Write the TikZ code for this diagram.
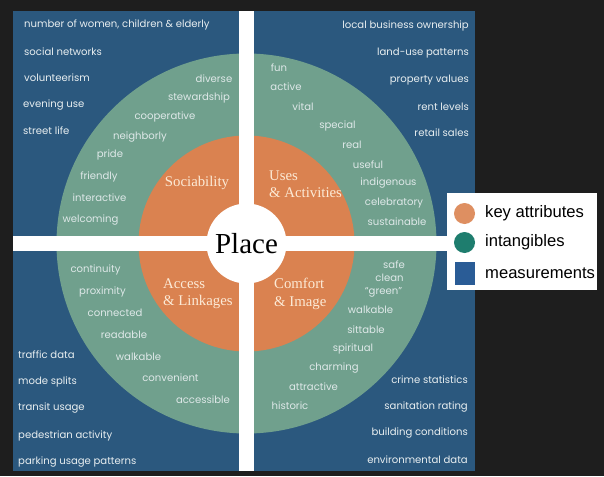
\documentclass[tikz,border=0pt]{standalone}
\usepackage{fontspec}
\setmainfont{Liberation Serif}
\newfontfamily\ringfont{Poppins}
\newfontfamily\keyfont{Liberation Sans}
\definecolor{darkbg}{RGB}{30,30,30}
\definecolor{measblue}{RGB}{43,88,126}
\definecolor{ringgreen}{RGB}{112,160,141}
\definecolor{keyorange}{RGB}{218,130,80}
\definecolor{keyteal}{RGB}{30,125,110}
\definecolor{keyblue}{RGB}{42,92,150}
\definecolor{paletext}{RGB}{232,238,240}
\definecolor{creamtext}{RGB}{252,234,214}

\begin{document}
\begin{tikzpicture}[x=1pt, y=-1pt,
    meas/.style={text=paletext, inner sep=0pt, font=\ringfont\fontsize{10.1}{12}\selectfont},
    intang/.style={meas, text=paletext!92!ringgreen},
    attr/.style={text=creamtext, inner sep=0pt, align=left, font=\fontsize{14.8}{17.5}\selectfont},
    keytext/.style={anchor=west, inner sep=0pt, font=\keyfont\fontsize{16.6}{18}\selectfont}]
    % Frame and background
    \useasboundingbox (0,0) rectangle (604,476);
    \fill[darkbg] (0,0) rectangle (604,476);
    \fill[measblue] (13,11) rectangle (475,471);

    % Rings
    \fill[ringgreen] (246.5,243.5) circle (190);
    \fill[keyorange] (246.5,243.5) circle (108);

    % White cross
    \fill[white] (239,11) rectangle (254,471);
    \fill[white] (13,236) rectangle (450,251);
    \node[circle, fill=white, minimum size=80, inner sep=0pt,
          font=\fontsize{29}{32}\selectfont] (place) at (246.5,243.5) {Place};

    % Key attributes
    \node[attr, align=center] (sociability) at (197,183) {Sociability};
    \node[attr, anchor=west] (uses) at (269,184) {Uses\\\& Activities};
    \node[attr, anchor=west] (access) at (163,293.5) {Access\\\& Linkages};
    \node[attr, anchor=west] (comfort) at (274,294) {Comfort\\\& Image};

    % Intangibles - sociability
    \node[intang] (diverse) at (214,79) {diverse};
    \node[intang] (stewardship) at (199,98) {stewardship};
    \node[intang] (cooperative) at (165,117) {cooperative};
    \node[intang] (neighborly) at (140,137) {neighborly};
    \node[intang] (pride) at (110,155) {pride};
    \node[intang] (friendly) at (99,177) {friendly};
    \node[intang] (interactive) at (99.5,198) {interactive};
    \node[intang] (welcoming) at (90.5,220) {welcoming};

    % Intangibles - uses & activities
    \node[intang] (fun) at (279,68) {fun};
    \node[intang] (active) at (286,87) {active};
    \node[intang] (vital) at (303,107) {vital};
    \node[intang] (special) at (337.5,126) {special};
    \node[intang] (real) at (352,145) {real};
    \node[intang] (useful) at (368,165) {useful};
    \node[intang] (indigenous) at (388.5,183) {indigenous};
    \node[intang] (celebratory) at (394,203) {celebratory};
    \node[intang] (sustainable) at (397,222) {sustainable};

    % Intangibles - access & linkages
    \node[intang] (continuity) at (95.5,270) {continuity};
    \node[intang] (proximity) at (102.5,292) {proximity};
    \node[intang] (connected) at (115,313) {connected};
    \node[intang] (readable) at (124,335) {readable};
    \node[intang] (walkableA) at (138.5,357) {walkable};
    \node[intang] (convenient) at (170.5,378) {convenient};
    \node[intang] (accessible) at (203,400) {accessible};

    % Intangibles - comfort & image
    \node[intang] (safe) at (394,265) {safe};
    \node[intang] (clean) at (389.5,278) {clean};
    \node[intang] (green) at (383.5,292) {“green”};
    \node[intang] (walkableC) at (370.5,310) {walkable};
    \node[intang] (sittable) at (366,330) {sittable};
    \node[intang] (spiritual) at (353,349) {spiritual};
    \node[intang] (charming) at (334,368) {charming};
    \node[intang] (attractive) at (313.5,387) {attractive};
    \node[intang] (historic) at (290,406) {historic};

    % Measurements - top left
    \node[meas, anchor=west] (women) at (24,25) {number of women, children \& elderly};
    \node[meas, anchor=west] (networks) at (24,52) {social networks};
    \node[meas, anchor=west] (volunteerism) at (24,78) {volunteerism};
    \node[meas, anchor=west] (evening) at (23,105) {evening use};
    \node[meas, anchor=west] (streetlife) at (23,131) {street life};

    % Measurements - top right
    \node[meas, anchor=east] (business) at (469,26) {local business ownership};
    \node[meas, anchor=east] (landuse) at (469,53) {land-use patterns};
    \node[meas, anchor=east] (property) at (469,80) {property values};
    \node[meas, anchor=east] (rent) at (469,107) {rent levels};
    \node[meas, anchor=east] (retail) at (469,133) {retail sales};

    % Measurements - bottom left
    \node[meas, anchor=west] (traffic) at (18,355) {traffic data};
    \node[meas, anchor=west] (modesplits) at (18,382) {mode splits};
    \node[meas, anchor=west] (transit) at (18,408) {transit usage};
    \node[meas, anchor=west] (pedestrian) at (18,436) {pedestrian activity};
    \node[meas, anchor=west] (parking) at (18,462) {parking usage patterns};

    % Measurements - bottom right
    \node[meas, anchor=east] (crime) at (468,380) {crime statistics};
    \node[meas, anchor=east] (sanitation) at (468,407) {sanitation rating};
    \node[meas, anchor=east] (building) at (468,433) {building conditions};
    \node[meas, anchor=east] (environment) at (468,460) {environmental data};

    % Legend
    \fill[white] (447,193) rectangle (597,290);
    \fill[keyorange!90!white] (464.5,213.5) circle (10.5);
    \fill[keyteal] (464.5,242.5) circle (10.5);
    \fill[keyblue] (455,262) rectangle (475,285);
    \node[keytext] (keyattr) at (485,213) {key attributes};
    \node[keytext] (keyintang) at (485,242) {intangibles};
    \node[keytext] (keymeas) at (485,273) {measurements};
\end{tikzpicture}
\end{document}
